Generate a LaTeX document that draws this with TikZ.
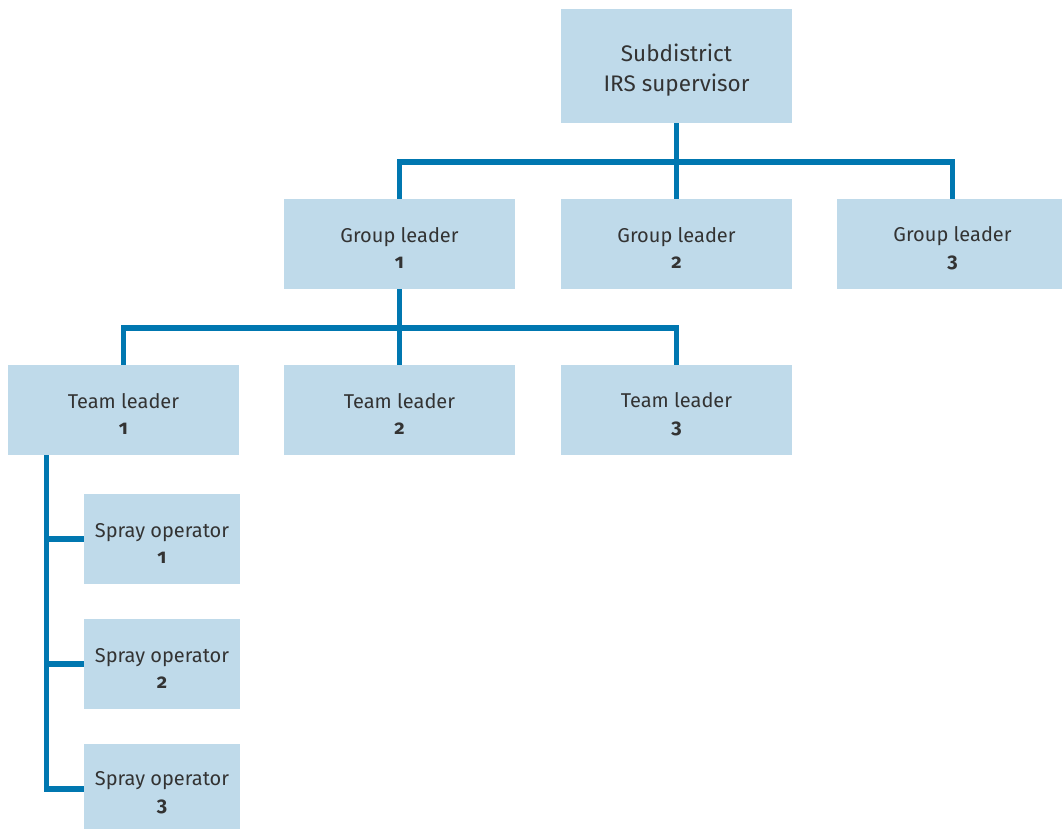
\documentclass[tikz,border=0pt]{standalone}
\usepackage{fontspec}
\setmainfont{Fira Sans}[RawFeature=+onum]
\definecolor{boxfill}{HTML}{BFDAEA}
\definecolor{linecol}{HTML}{0077B0}
\definecolor{txt}{HTML}{333333}
\begin{document}
\begin{tikzpicture}[x=1pt,y=-1pt,
  box/.style={rectangle,fill=boxfill,draw=none,inner sep=0pt},
  bigbox/.style={box,minimum width=231pt,minimum height=90pt},
  smallbox/.style={box,minimum width=156pt,minimum height=90pt},
  lbl/.style={align=center,text=txt,inner sep=0pt,font=\fontsize{20}{26}\selectfont},
  conn/.style={draw=linecol,line width=5.5pt,line join=miter}]
\clip (0,0) rectangle (1062,829);
\fill[white] (0,0) rectangle (1062,829);
% boxes
\node[box,minimum width=231pt,minimum height=114pt] (sub) at (676.5,66) {};
\node[bigbox] (g1) at (399.5,244) {};
\node[bigbox] (g2) at (676.5,244) {};
\node[bigbox] (g3) at (952.5,244) {};
\node[bigbox] (t1) at (123.5,410) {};
\node[bigbox] (t2) at (399.5,410) {};
\node[bigbox] (t3) at (676.5,410) {};
\node[smallbox] (s1) at (162,539) {};
\node[smallbox] (s2) at (162,664) {};
\node[smallbox] (s3) at (162,789) {};
% labels
\node[lbl,font=\fontsize{22.5}{30}\selectfont] (subl) at ([yshift=-4pt]sub.center) {Subdistrict\\IRS supervisor};
\node[lbl] (g1l) at ([yshift=-4pt]g1.center) {Group leader\\\textbf{1}};
\node[lbl] (g2l) at ([yshift=-4pt]g2.center) {Group leader\\\textbf{2}};
\node[lbl] (g3l) at ([yshift=-4pt]g3.center) {Group leader\\\textbf{3}};
\node[lbl] (t1l) at ([yshift=-4pt]t1.center) {Team leader\\\textbf{1}};
\node[lbl] (t2l) at ([yshift=-4pt]t2.center) {Team leader\\\textbf{2}};
\node[lbl] (t3l) at ([yshift=-4pt]t3.center) {Team leader\\\textbf{3}};
\node[lbl] (s1l) at ([yshift=-4pt]s1.center) {Spray operator\\\textbf{1}};
\node[lbl] (s2l) at ([yshift=-4pt]s2.center) {Spray operator\\\textbf{2}};
\node[lbl] (s3l) at ([yshift=-4pt]s3.center) {Spray operator\\\textbf{3}};
% connectors
\draw[conn] (sub.south) -- (g2.north);
\draw[conn] (g1.north) -- ++(0,-37) -| (g3.north);
\draw[conn] (g1.south) -- (t2.north);
\draw[conn] (t1.north) -- ++(0,-37) -| (t3.north);
\coordinate (spine) at ([xshift=38.5pt]t1.south west);
\draw[conn] (spine) |- (s3.west);
\draw[conn] (s1.west) -- (s1.west -| spine);
\draw[conn] (s2.west) -- (s2.west -| spine);
\end{tikzpicture}
\end{document}
